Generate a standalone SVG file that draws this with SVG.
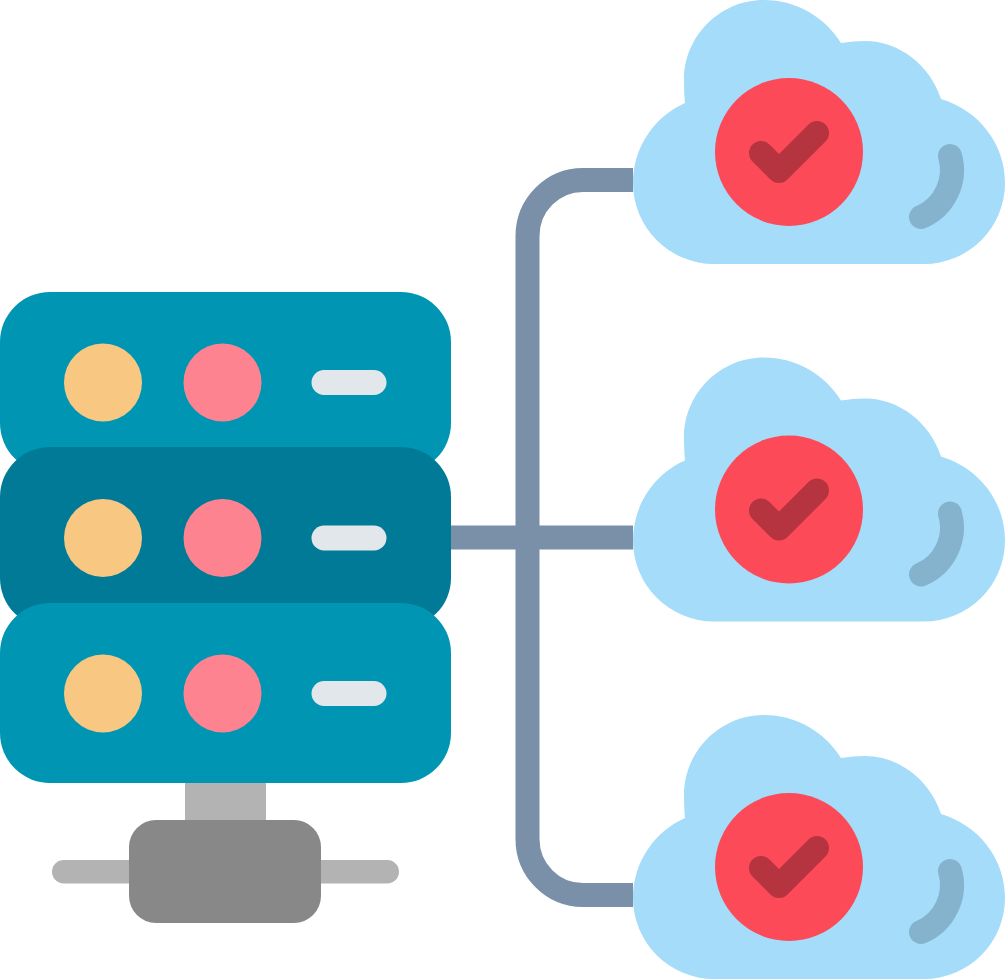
<svg xmlns="http://www.w3.org/2000/svg" width="1006" height="980" viewBox="0 0 1006 980">
<style>
.wire{fill:none;stroke:#7a8fa8;stroke-width:24}
.cloud{fill:#a4dcf9}
.badge{fill:#fc4a58}
.check{fill:none;stroke:#b5343f;stroke-width:24;stroke-linecap:round;stroke-linejoin:round}
.shine{fill:none;stroke:#85b2cc;stroke-width:24;stroke-linecap:round}
.amber{fill:#f8c883}
.pink{fill:#fe8391}
.pill{fill:#e1e7ea}
.light{fill:#b3b3b3}
</style>
<defs>
<g id="cloudShape">
<path class="cloud" d="M714 264A81 81 0 0 1 633 183C633 147 655 116 685 103C684.300 95 684 88 684 80C684 36 720 0 764 0C796 0 825 17 841 43C849 41.700 857 41 865 41C899 41 930 65 941 99C978 110 1005 143 1005 183A81 81 0 0 1 924 264Z"/>
<circle class="badge" cx="789" cy="152" r="74"/>
<path class="check" d="M761 153L779 171L817 133"/>
<path class="shine" d="M950 156C957 180 945 207 921 217"/>
</g>
<g id="rowFace">
<circle class="amber" cx="103" cy="0" r="39"/>
<circle class="pink" cx="222.500" cy="0" r="39"/>
<rect class="pill" x="311.500" y="-12.500" width="75" height="25" rx="12.500"/>
</g>
</defs>
<g id="connectors">
<path class="wire" d="M633 180H583A55.500 56 0 0 0 527.500 236V839A55.500 56 0 0 0 583 895H633"/>
<path class="wire" d="M451 537.500H633"/>
</g>
<g id="hub">
<rect class="light" x="52" y="860" width="347" height="23.500" rx="11.700"/>
<rect class="light" x="185" y="775" width="81" height="55"/>
<rect x="129" y="820" width="192" height="103" rx="27" fill="#888888"/>
</g>
<g id="server-top">
<rect x="0" y="292" width="451" height="181" rx="50" fill="#0096b3"/>
<use href="#rowFace" y="382.500"/>
</g>
<g id="server-middle">
<rect x="0" y="447" width="451" height="181" rx="50" fill="#007a96"/>
<use href="#rowFace" y="538"/>
</g>
<g id="server-bottom">
<rect x="0" y="603" width="451" height="180" rx="50" fill="#0096b3"/>
<use href="#rowFace" y="693.500"/>
</g>
<g id="cloud-top"><use href="#cloudShape"/></g>
<g id="cloud-middle"><use href="#cloudShape" y="357.500"/></g>
<g id="cloud-bottom"><use href="#cloudShape" y="715"/></g>
</svg>
